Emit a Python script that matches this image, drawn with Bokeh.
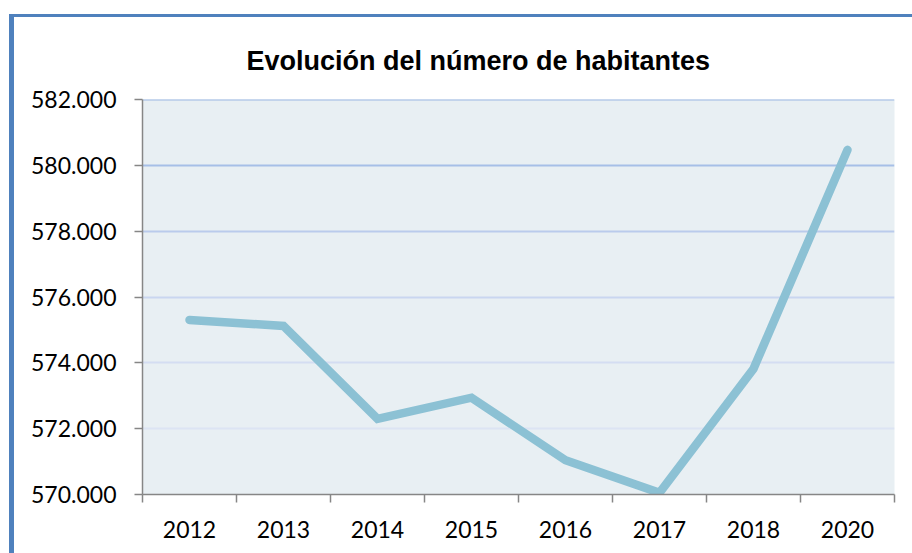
from bokeh.plotting import figure
from bokeh.models import FixedTicker, Range1d, Title
from bokeh.layouts import column
from bokeh.embed import file_html
from bokeh.resources import INLINE

years = ["2012", "2013", "2014", "2015", "2016", "2017", "2018", "2020"]
habitantes = [575300, 575120, 572300, 572940, 571040, 570050, 573820, 580470]
y_ticks = [570000, 572000, 574000, 576000, 578000, 580000, 582000]
y_tick_labels = ["570.000", "572.000", "574.000", "576.000", "578.000", "580.000", "582.000"]
grid_colors = ["#DCE4F3", "#D4DDF2", "#C9D6F0", "#BACBEC", "#A6BFE7", "#9CB8E4"]

x_pos = [i + 0.5 for i in range(len(years))]

p = figure(
    frame_width=752, frame_height=395,
    min_border_left=128, min_border_top=82, min_border_right=18, min_border_bottom=59,
    x_range=Range1d(0, len(years)), y_range=Range1d(y_ticks[0], y_ticks[-1]),
    output_backend="svg", toolbar_location=None,
    background_fill_color="#E8EFF3", border_fill_color="white",
)
p.outline_line_color = None
p.xgrid.visible = False
p.ygrid.visible = False

p.title = Title(text="Evolución del número de habitantes", align="left",
                text_font="Liberation Sans", text_font_style="bold",
                text_font_size="27px", text_color="black", offset=104,
                standoff=44, vertical_align="top", text_line_height=1.0)

# gridlines
p.hspan(y=y_ticks[1:], line_color=grid_colors, line_width=2)

# line
p.line(x_pos, habitantes, line_color="#8CC1D4", line_width=8.5,
       line_cap="round", line_join="miter")

# y axis
ya = p.yaxis[0]
ya.ticker = FixedTicker(ticks=y_ticks, minor_ticks=[])
ya.major_label_overrides = {float(t): l for t, l in zip(y_ticks, y_tick_labels)}
ya.axis_line_color = "#868686"
ya.axis_line_width = 1.5
ya.major_tick_line_color = "#868686"
ya.major_tick_line_width = 1.5
ya.major_tick_out = 8
ya.major_tick_in = 0
ya.major_label_standoff = 18
ya.major_label_text_font = "Lato"
ya.major_label_text_font_size = "23px"
ya.major_label_text_color = "black"

# x axis
xa = p.xaxis[0]
xa.ticker = FixedTicker(ticks=x_pos, minor_ticks=list(range(len(years) + 1)))
xa.major_label_overrides = {float(x): y for x, y in zip(x_pos, years)}
xa.axis_line_color = "#868686"
xa.axis_line_width = 1.5
xa.major_tick_out = 0
xa.major_tick_in = 0
xa.minor_tick_line_color = "#868686"
xa.minor_tick_line_width = 1.5
xa.minor_tick_out = 8
xa.minor_tick_in = 0
xa.major_label_standoff = 18
xa.major_label_text_font = "Lato"
xa.major_label_text_font_size = "23px"
xa.major_label_text_color = "black"

layout = column(p, styles={"border-left": "5px solid #4F81BD",
                           "border-top": "3px solid #4F81BD"},
                margin=(14, 0, 0, 9))

open("out.html", "w").write(file_html(layout, INLINE))
